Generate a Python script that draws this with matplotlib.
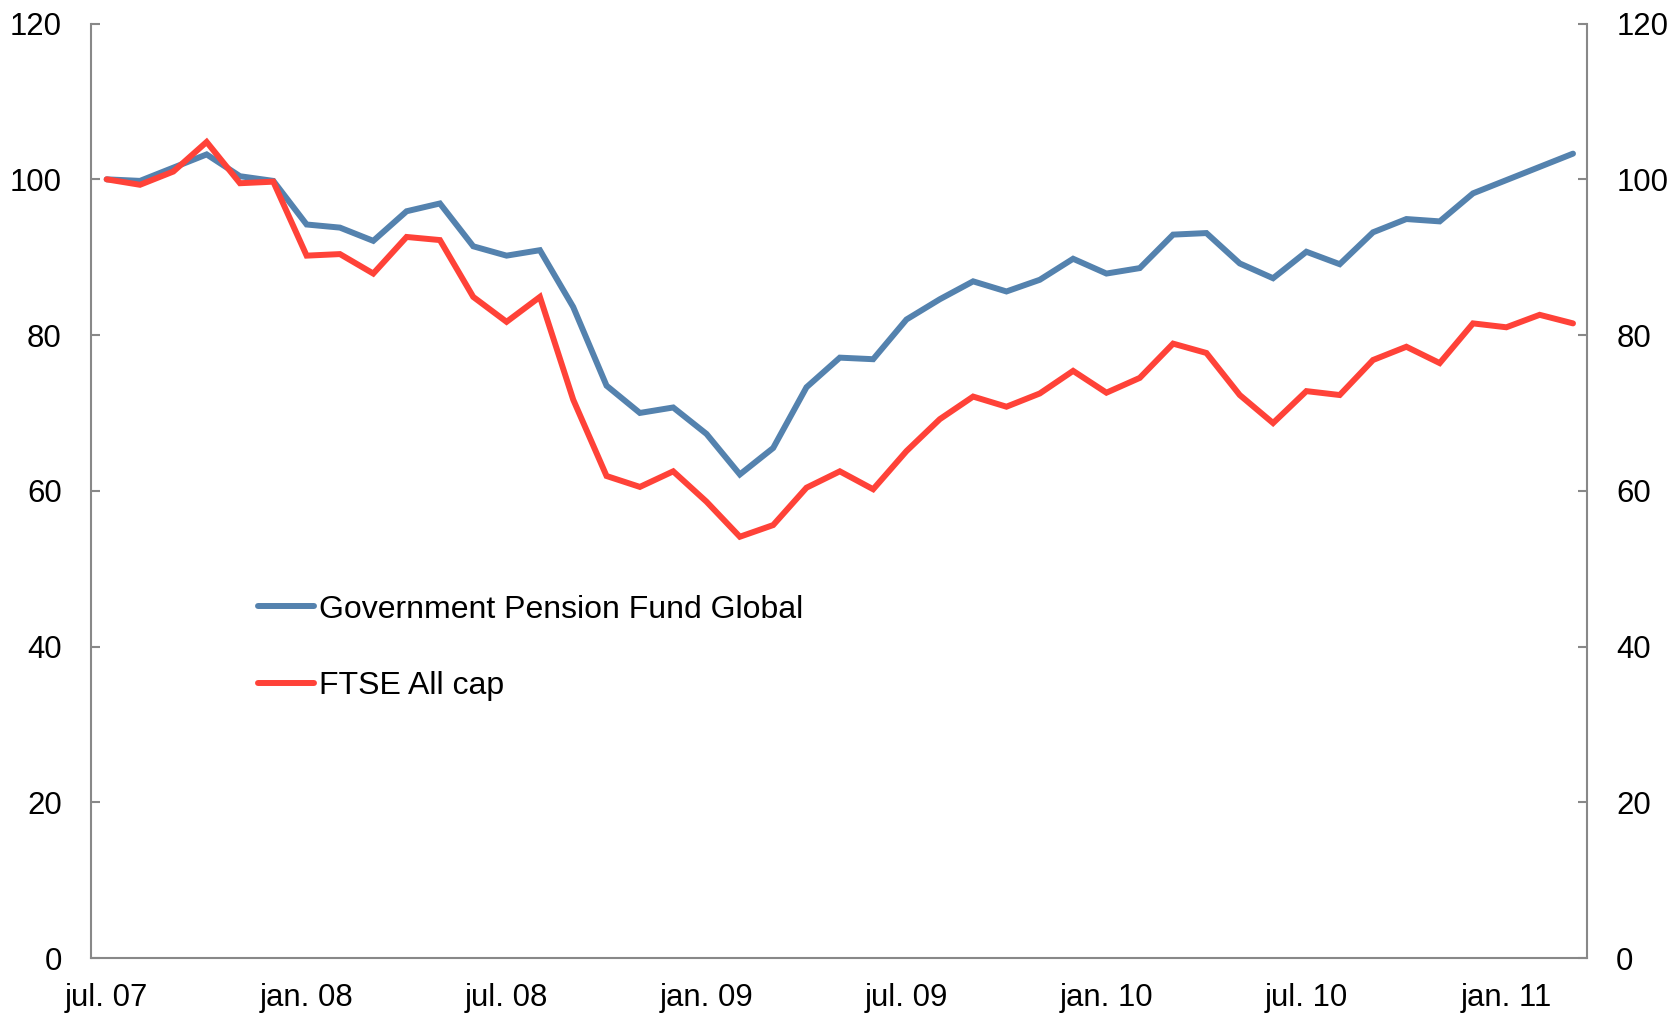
import matplotlib
matplotlib.use("Agg")
import matplotlib.pyplot as plt

plt.rcParams['font.family'] = ['Liberation Sans', 'DejaVu Sans']

tick_labels = ["jul. 07", "jan. 08", "jul. 08", "jan. 09", "jul. 09", "jan. 10", "jul. 10", "jan. 11"]

gpfg = [100.0, 99.8, 101.5, 103.2, 100.4, 99.8, 94.2, 93.8, 92.1, 95.9,
        96.9, 91.4, 90.2, 90.9, 83.6, 73.5, 70.0, 70.7, 67.3, 62.1,
        65.5, 73.3, 77.1, 76.9, 82.0, 84.6, 86.9, 85.6, 87.1, 89.8,
        87.9, 88.6, 92.9, 93.1, 89.2, 87.3, 90.7, 89.1, 93.2, 94.9,
        94.6, 98.2, 99.9, 101.6, 103.3]

ftse = [100.0, 99.3, 101.0, 104.8, 99.5, 99.7, 90.2, 90.4, 87.9, 92.6,
        92.2, 84.9, 81.7, 84.9, 71.7, 61.9, 60.5, 62.5, 58.6, 54.1,
        55.6, 60.4, 62.5, 60.2, 65.1, 69.2, 72.1, 70.8, 72.5, 75.4,
        72.6, 74.5, 78.9, 77.7, 72.3, 68.7, 72.8, 72.3, 76.8, 78.5,
        76.4, 81.5, 81.0, 82.6, 81.5]

series_names = ["Government Pension Fund Global", "FTSE All cap"]

months = list(range(len(gpfg)))

fig = plt.figure(figsize=(16.8, 10.16), dpi=100)
ax = fig.add_axes([91/1680, 1 - 958/1016, (1587-91)/1680, (958-23.6)/1016])

blue = '#5482AE'
red = '#FF4238'
ax.plot(months, gpfg, color=blue, lw=4.3, solid_joinstyle='miter', solid_capstyle='round',
        label=series_names[0])
ax.plot(months, ftse, color=red, lw=4.3, solid_joinstyle='miter', solid_capstyle='round',
        label=series_names[1])

ax.set_xlim(-0.47, 44.42)
ax.set_ylim(0, 120)
ax.set_yticks(range(0, 121, 20))
ax.set_xticks(range(0, 45, 6))
ax.set_xticklabels(tick_labels)

for s in ['left', 'right', 'bottom']:
    ax.spines[s].set_color('#888888')
    ax.spines[s].set_linewidth(1.5)
ax.spines['top'].set_visible(False)

ax.tick_params(axis='y', direction='in', length=6.5, width=1.5, color='#888888',
               left=True, right=True, labelleft=True, labelright=True,
               labelsize=22.4, pad=21)
ax.tick_params(axis='x', length=0, labelsize=22.4, pad=18)

leg = ax.legend(loc='center left', bbox_to_anchor=(258/1680, 1 - 648/1016),
                bbox_transform=fig.transFigure, frameon=False, fontsize=23,
                handlelength=1.75, handletextpad=0.16, labelspacing=1.47,
                borderpad=0, borderaxespad=0)
for h in leg.get_lines():
    h.set_solid_capstyle('round')

fig.savefig("out.png", dpi=100)
